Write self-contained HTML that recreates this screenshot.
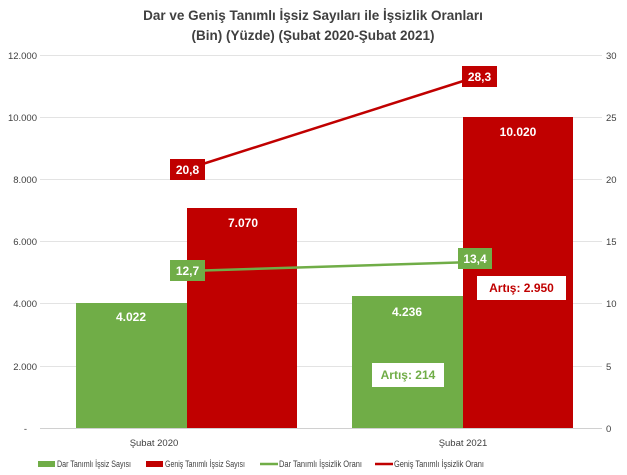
<!DOCTYPE html>
<html><head><meta charset="utf-8"><style>
body{margin:0;background:#fff;}
svg{display:block;font-family:"Liberation Sans",sans-serif;}
</style></head><body>
<svg width="627" height="475" viewBox="0 0 627 475">
<text x="313" y="20" text-anchor="middle" font-size="13.5" font-weight="bold" fill="#404040">Dar ve Geniş Tanımlı İşsiz Sayıları ile İşsizlik Oranları</text>
<text x="313" y="40" text-anchor="middle" font-size="13.5" font-weight="bold" fill="#404040">(Bin) (Yüzde) (Şubat 2020-Şubat 2021)</text>
<g stroke="#e3e3e3" stroke-width="1">
<line x1="40" x2="602" y1="55.5" y2="55.5"/><line x1="40" x2="602" y1="117.5" y2="117.5"/>
<line x1="40" x2="602" y1="179.5" y2="179.5"/><line x1="40" x2="602" y1="241.5" y2="241.5"/>
<line x1="40" x2="602" y1="303.5" y2="303.5"/><line x1="40" x2="602" y1="366.5" y2="366.5"/>
</g>
<line x1="40" x2="602" y1="428.5" y2="428.5" stroke="#d0d0d0"/>
<g font-size="9.5" fill="#404040" text-anchor="end">
<text x="37" y="59">12.000</text><text x="37" y="121">10.000</text><text x="37" y="183">8.000</text>
<text x="37" y="245">6.000</text><text x="37" y="307">4.000</text><text x="37" y="370">2.000</text><text x="27" y="432">-</text>
</g>
<g font-size="9.5" fill="#404040">
<text x="606" y="59">30</text><text x="606" y="121">25</text><text x="606" y="183">20</text>
<text x="606" y="245">15</text><text x="606" y="307">10</text><text x="606" y="370">5</text><text x="606" y="432">0</text>
</g>
<rect x="76" y="303" width="111" height="125" fill="#70ad47"/>
<rect x="187" y="208" width="110" height="220" fill="#c00000"/>
<rect x="352" y="296" width="111" height="132" fill="#70ad47"/>
<rect x="463" y="117" width="110" height="311" fill="#c00000"/>
<g font-size="12" font-weight="bold" fill="#fff" text-anchor="middle">
<text x="131" y="321">4.022</text><text x="243" y="227">7.070</text>
<text x="407" y="316">4.236</text><text x="518" y="136">10.020</text>
</g>
<line x1="187" y1="169" x2="479" y2="76" stroke="#c00000" stroke-width="2.5"/>
<line x1="187" y1="271" x2="474" y2="262" stroke="#70ad47" stroke-width="2.5"/>
<rect x="170" y="159" width="35" height="21" fill="#c00000"/><text x="187.5" y="174" text-anchor="middle" font-size="12" font-weight="bold" fill="#fff">20,8</text>
<rect x="462" y="66" width="35" height="21" fill="#c00000"/><text x="479.5" y="81" text-anchor="middle" font-size="12" font-weight="bold" fill="#fff">28,3</text>
<rect x="170" y="260" width="35" height="21" fill="#70ad47"/><text x="187.5" y="275" text-anchor="middle" font-size="12" font-weight="bold" fill="#fff">12,7</text>
<rect x="458" y="248" width="34" height="21" fill="#70ad47"/><text x="475" y="263" text-anchor="middle" font-size="12" font-weight="bold" fill="#fff">13,4</text>
<rect x="477" y="276" width="89" height="24" fill="#fff"/><text x="521.5" y="292" text-anchor="middle" font-size="12" font-weight="bold" fill="#c00000">Artış: 2.950</text>
<rect x="372" y="363" width="72" height="24" fill="#fff"/><text x="408" y="379" text-anchor="middle" font-size="12" font-weight="bold" fill="#70ad47">Artış: 214</text>
<g font-size="9.5" fill="#404040" text-anchor="middle">
<text x="154" y="446">Şubat 2020</text><text x="463" y="446">Şubat 2021</text>
</g>
<g font-size="9" fill="#404040">
<rect x="38" y="461" width="17" height="6" fill="#70ad47"/><text x="57" y="467" textLength="74" lengthAdjust="spacingAndGlyphs">Dar Tanımlı İşsiz Sayısı</text>
<rect x="146" y="461" width="17" height="6" fill="#c00000"/><text x="165" y="467" textLength="80" lengthAdjust="spacingAndGlyphs">Geniş Tanımlı İşsiz Sayısı</text>
<line x1="260" x2="278" y1="464" y2="464" stroke="#70ad47" stroke-width="2.5"/><text x="279" y="467" textLength="83" lengthAdjust="spacingAndGlyphs">Dar Tanımlı İşsizlik Oranı</text>
<line x1="375" x2="393" y1="464" y2="464" stroke="#c00000" stroke-width="2.5"/><text x="394" y="467" textLength="90" lengthAdjust="spacingAndGlyphs">Geniş Tanımlı İşsizlik Oranı</text>
</g>
</svg>
</body></html>
